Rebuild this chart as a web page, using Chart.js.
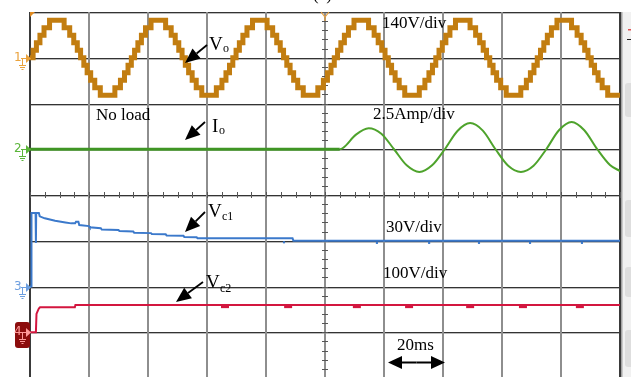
<!DOCTYPE html>
<html><head><meta charset="utf-8">
<script src="https://cdn.jsdelivr.net/npm/chart.js@4/dist/chart.umd.min.js"></script>
<style>
html,body{margin:0;padding:0;background:#fff;overflow:hidden;width:631px;height:377px}
canvas{display:block}
</style>
</head><body>
<canvas id="c" width="631" height="390" style="width:631px;height:390px"></canvas>
<script>
// ---- time base: ms, 20 ms/div, 10 divisions ----
const timeTicks = [0,20,40,60,80,100,120,140,160,180,200];
const divTicks = [0,1,2,3,4,5,6,7,8];

// ---- channel settings (units per division) ----
const chLabels = ['Vo','Io','Vc1','Vc2'];
const chPerDiv = [140, 2.5, 30, 100];
const chGroundDiv = [7, 5, 2, 1];

// ---- Vo : stepped (multilevel) output voltage, V ----
const voTime = [0,
 1.05,2.17,3.37,4.75,6.63,11.57,13.46,14.83,16.03,17.15,18.25,19.37,20.57,21.95,23.83,28.77,30.66,32.03,33.23,34.35,
 35.45,36.57,37.77,39.15,41.03,45.97,47.86,49.23,50.43,51.55,52.65,53.77,54.97,56.35,58.23,63.17,65.06,66.43,67.63,68.75,
 69.85,70.97,72.17,73.55,75.43,80.37,82.26,83.63,84.83,85.95,87.05,88.17,89.37,90.75,92.63,97.57,99.46,100.83,102.03,103.15,
 104.25,105.37,106.57,107.95,109.83,114.77,116.66,118.03,119.23,120.35,121.45,122.57,123.77,125.15,127.03,131.97,133.86,135.23,136.43,137.55,
 138.65,139.77,140.97,142.35,144.23,149.17,151.06,152.43,153.63,154.75,155.85,156.97,158.17,159.55,161.43,166.37,168.26,169.63,170.83,171.95,
 173.05,174.17,175.37,176.75,178.63,183.57,185.46,186.83,188.03,189.15,190.25,191.37,192.57,193.95,195.83,200];
const voVolts = [0,
 23,46,69,92,115,92,69,46,23,0,-23,-46,-69,-92,-115,-92,-69,-46,-23,0,
 23,46,69,92,115,92,69,46,23,0,-23,-46,-69,-92,-115,-92,-69,-46,-23,0,
 23,46,69,92,115,92,69,46,23,0,-23,-46,-69,-92,-115,-92,-69,-46,-23,0,
 23,46,69,92,115,92,69,46,23,0,-23,-46,-69,-92,-115,-92,-69,-46,-23,0,
 23,46,69,92,115,92,69,46,23,0,-23,-46,-69,-92,-115,-92,-69,-46,-23,0,
 23,46,69,92,115,92,69,46,23,0,-23,-46,-69,-92,-115,-115];

// ---- Io : load current, A (no load, then load applied) ----
const ioTime = [0,105.0,106.2,110.5,114.8,119.1,123.4,127.7,132.0,136.3,140.6,144.9,149.2,153.5,157.8,162.1,166.4,170.7,175.0,179.3,183.6,187.9,192.3,196.6,200];
const ioAmps = [0,0,0.08,0.8,1.15,0.85,0,-0.88,-1.24,-0.88,0,1.0,1.43,1.02,0,-0.9,-1.24,-0.9,0,1.04,1.49,1.04,0,-0.86,-1.19];

// ---- Vc1 : capacitor 1 voltage, V ----
const vc1Time = [0,0.4,0.5,1.9,2.0,2.1,3.0,3.3,5.0,8.5,12.0,14.0,15.3,15.6,16.4,16.7,20.0,20.3,24.0,24.3,30.0,30.3,35.0,35.3,41.0,41.3,46.0,46.3,52.0,52.3,56.5,56.8,89.0,89.3,200];
const vc1Volts = [0,0,48.2,48.2,28.5,48.2,48.2,46.0,44.7,43.1,42.0,41.4,41.4,42.4,42.4,40.3,39.6,38.8,38.2,37.4,37.0,36.4,36.0,35.3,35.0,34.4,34.2,33.5,33.3,32.5,32.3,31.6,31.6,30.0,30.0];
const vc1GlitchTime = [86.1,117.6,135.3,152.2,169.5,187.1];
const vc1GlitchVolts = [29.0,28.6,28.6,28.6,28.6,28.6];

// ---- Vc2 : capacitor 2 voltage, V ----
const vc2Time = [0,2.0,2.2,2.6,3.0,3.4,15.2,15.4,200];
const vc2Volts = [0,0,40,46,52,54.5,54.5,59.6,59.6];
const vc2GlitchTime = [66.1,87.5,110.8,128.5,149.2,167.1,186.4];
const vc2GlitchVolts = [56,56,56,56,56,56,56];

const zip = (xs, ys) => xs.map((x, i) => ({x, y: ys[i]}));
const chanAxis = i => ({type:'linear', display:false, min:-chGroundDiv[i]*chPerDiv[i], max:(8-chGroundDiv[i])*chPerDiv[i]});

const SERIF = '"Liberation Serif","Times New Roman",serif';

function arrow(ctx, x1, y1, x2, y2, head, hw, lw){
  const a = Math.atan2(y2-y1, x2-x1);
  const bx = x2 - head*Math.cos(a), by = y2 - head*Math.sin(a);
  ctx.strokeStyle = '#000'; ctx.lineWidth = lw; ctx.lineCap = 'butt';
  ctx.beginPath(); ctx.moveTo(x1, y1); ctx.lineTo(bx, by); ctx.stroke();
  ctx.fillStyle = '#000'; ctx.beginPath(); ctx.moveTo(x2, y2);
  ctx.lineTo(bx + hw*Math.sin(a), by - hw*Math.cos(a));
  ctx.lineTo(bx - hw*Math.sin(a), by + hw*Math.cos(a));
  ctx.closePath(); ctx.fill();
}
function subLabel(ctx, main, sub, x, y, sx, sy){
  ctx.fillStyle = '#000'; ctx.textAlign = 'left'; ctx.textBaseline = 'alphabetic';
  ctx.font = '19px ' + SERIF; ctx.fillText(main, x, y);
  ctx.font = '12px ' + SERIF; ctx.fillText(sub, sx, sy);
}
function chMarker(ctx, y, digit, color, boxed){
  if (boxed){
    ctx.fillStyle = '#8c0d0d';
    ctx.beginPath(); ctx.roundRect(15, y-10, 15, 26, 3); ctx.fill();
  }
  ctx.fillStyle = color; ctx.strokeStyle = color; ctx.lineWidth = 1;
  ctx.font = '12px "DejaVu Sans",sans-serif'; ctx.textAlign = 'left'; ctx.textBaseline = 'alphabetic';
  ctx.fillText(digit, 14, y + 3);
  ctx.beginPath();
  ctx.moveTo(21, y + 0.5); ctx.lineTo(26, y + 0.5);
  ctx.moveTo(22.5, y); ctx.lineTo(22.5, y + 7);
  ctx.moveTo(19, y + 7.5); ctx.lineTo(26, y + 7.5);
  ctx.moveTo(20, y + 9.5); ctx.lineTo(25, y + 9.5);
  ctx.moveTo(21.5, y + 11.5); ctx.lineTo(23.5, y + 11.5);
  ctx.stroke();
  ctx.beginPath(); ctx.moveTo(26, y - 4); ctx.lineTo(31, y + 0.5); ctx.lineTo(26, y + 5); ctx.closePath(); ctx.fill();
}

const deco = {
  id: 'deco',
  beforeDatasetsDraw(chart){
    const {ctx, chartArea: a, scales: {x, yGrid}} = chart;
    ctx.save();
    for (const d of divTicks){
      const py = Math.round(yGrid.getPixelForValue(d));
      ctx.fillStyle = '#333';
      ctx.fillRect(a.left, py, a.right - a.left, 1);
      ctx.fillStyle = 'rgba(60,60,60,0.35)';
      ctx.fillRect(a.left, py + 1, a.right - a.left, 1);
    }
    for (const t of timeTicks){
      const px = Math.round(x.getPixelForValue(t));
      ctx.fillStyle = (t === timeTicks[0] || t === timeTicks[timeTicks.length-1]) ? '#3a3a3a' : '#8e8e8e';
      ctx.fillRect(px - 1, a.top, 2, a.bottom - a.top);
    }
    const cx = Math.round(x.getPixelForValue(100));
    const cy = Math.round(yGrid.getPixelForValue(4));
    ctx.fillStyle = '#555';
    for (let d = 0; d <= 40; d++){
      const py = Math.round(yGrid.getPixelForValue(d / 5));
      ctx.fillRect(cx - 3, py, 6, 1);
    }
    for (let k = 0; k <= 40; k++){
      const px = Math.round(x.getPixelForValue(k * 5));
      ctx.fillRect(px, cy - 3, 1, 6);
    }
    ctx.restore();
  },
  afterDraw(chart){
    const {ctx, chartArea: a, scales: {x, yGrid}} = chart;
    ctx.save();
    ctx.fillStyle = '#f1f1f1'; ctx.fillRect(621, 12, 10, 380);
    ctx.fillStyle = '#a4a4a4'; ctx.fillRect(621, 12, 1.5, 380);
    ctx.fillStyle = '#dedede';
    for (const [y0, h] of [[83,34],[200,37],[267,30],[330,37]]){
      ctx.beginPath(); ctx.roundRect(625, y0, 8, h, 3); ctx.fill();
    }
    ctx.fillStyle = '#e05050'; ctx.fillRect(628, 29, 3, 1.5);
    ctx.fillStyle = '#222'; ctx.fillRect(627, 39, 4, 1);

    ctx.fillStyle = '#e08a20';
    ctx.beginPath(); ctx.moveTo(a.left, a.top); ctx.lineTo(a.left + 5, a.top); ctx.lineTo(a.left, a.top + 5); ctx.closePath(); ctx.fill();
    const cx = Math.round(x.getPixelForValue(100));
    ctx.strokeStyle = '#e8a040'; ctx.lineWidth = 1.2;
    ctx.beginPath(); ctx.moveTo(cx - 4, a.top); ctx.lineTo(cx, a.top + 5); ctx.lineTo(cx + 4, a.top);
    ctx.moveTo(cx, a.top + 5); ctx.lineTo(cx, a.top + 9); ctx.stroke();

    chMarker(ctx, Math.round(yGrid.getPixelForValue(chGroundDiv[0])), '1', '#eaa23c', false);
    chMarker(ctx, Math.round(yGrid.getPixelForValue(chGroundDiv[1])), '2', '#5bb53a', false);
    chMarker(ctx, Math.round(yGrid.getPixelForValue(chGroundDiv[2])), '3', '#6d9fe0', false);
    chMarker(ctx, Math.round(yGrid.getPixelForValue(chGroundDiv[3])), '4', '#ff9a9a', true);

    ctx.fillStyle = '#000'; ctx.textAlign = 'left'; ctx.textBaseline = 'alphabetic';
    ctx.font = '17px ' + SERIF;
    ctx.fillText('(c)', 313, 0);
    ctx.fillText('140V/div', 382, 28);
    ctx.fillText('No load', 96, 120);
    ctx.fillText('2.5Amp/div', 373, 119);
    ctx.fillText('30V/div', 386, 232);
    ctx.fillText('100V/div', 383, 278);
    ctx.fillText('20ms', 397, 350);

    subLabel(ctx, 'V', 'o', 209, 50, 223, 52);
    subLabel(ctx, 'I', 'o', 212, 132, 219, 134);
    subLabel(ctx, 'V', 'c1', 208, 217, 222, 220);
    subLabel(ctx, 'V', 'c2', 206, 288, 220, 292);

    arrow(ctx, 207, 45, 185, 63, 15, 6.5, 1.8);
    arrow(ctx, 205, 122, 185, 140, 15, 6.5, 1.8);
    arrow(ctx, 205, 212, 185, 232, 15, 6.5, 1.8);
    arrow(ctx, 203, 282, 176, 302, 15, 6.5, 1.8);

    const p0 = x.getPixelForValue(timeTicks[6]) + 4, p1 = x.getPixelForValue(timeTicks[7]) + 2;
    const pm = (p0 + p1) / 2;
    arrow(ctx, pm, 362.5, p0, 362.5, 14, 6.5, 2);
    arrow(ctx, pm, 362.5, p1, 362.5, 14, 6.5, 2);
    ctx.restore();
  }
};

new Chart(document.getElementById('c'), {
  type: 'line',
  data: {
    datasets: [
      {label: chLabels[0], data: zip(voTime, voVolts), yAxisID: 'yVo', stepped: 'before',
       borderColor: '#c27d10', borderWidth: 5, borderJoinStyle: 'miter', pointRadius: 0, fill: false},
      {label: chLabels[1], data: zip(ioTime, ioAmps), yAxisID: 'yIo', cubicInterpolationMode: 'monotone',
       borderColor: '#4ea32c', borderWidth: 2, pointRadius: 0, fill: false,
       segment: {borderWidth: c => c.p1.parsed.x <= 105 ? 3 : 2, borderColor: c => c.p1.parsed.x <= 105 ? '#3f9524' : '#4ea32c'}},
      {label: chLabels[2], data: zip(vc1Time, vc1Volts), yAxisID: 'yVc1',
       borderColor: '#3b79cb', borderWidth: 2, pointRadius: 0, fill: false, tension: 0},
      {label: chLabels[2] + ' glitch', data: zip(vc1GlitchTime, vc1GlitchVolts), yAxisID: 'yVc1', showLine: false,
       pointStyle: 'rect', pointRadius: 1.5, pointBackgroundColor: '#3b79cb', pointBorderWidth: 0},
      {label: chLabels[3], data: zip(vc2Time, vc2Volts), yAxisID: 'yVc2',
       borderColor: '#d3163f', borderWidth: 2, pointRadius: 0, fill: false, tension: 0},
      {label: chLabels[3] + ' glitch', data: zip(vc2GlitchTime, vc2GlitchVolts), yAxisID: 'yVc2', showLine: false,
       pointStyle: 'line', pointRadius: 4, pointBorderWidth: 3, pointBorderColor: '#d3163f'}
    ]
  },
  options: {
    responsive: false, animation: false, events: [],
    devicePixelRatio: 1,
    layout: {padding: {left: 30, top: 12, right: 11, bottom: 12}},
    plugins: {legend: {display: false}, tooltip: {enabled: false}},
    scales: {
      x: {type: 'linear', display: false, min: timeTicks[0], max: timeTicks[timeTicks.length-1]},
      yGrid: {type: 'linear', display: false, min: divTicks[0], max: divTicks[divTicks.length-1]},
      yVo: chanAxis(0), yIo: chanAxis(1), yVc1: chanAxis(2), yVc2: chanAxis(3)
    }
  },
  plugins: [deco]
});
</script>
</body></html>
